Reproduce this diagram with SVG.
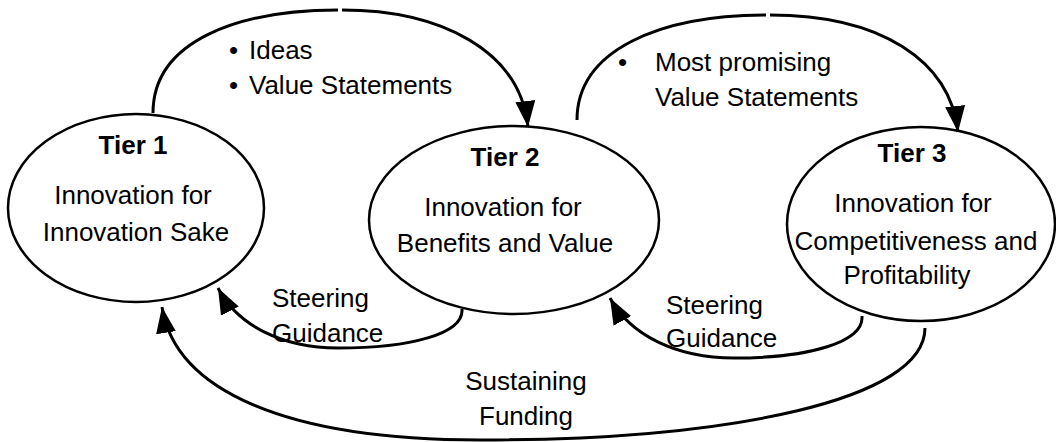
<svg xmlns="http://www.w3.org/2000/svg" width="1056" height="442" viewBox="0 0 1056 442">
<style>
.node{fill:#fff;stroke:#000;stroke-width:2.5}
.conn{fill:none;stroke:#000;stroke-width:3}
text{font-family:"Liberation Sans",Arial,sans-serif;font-size:26px;fill:#000}
.t{font-weight:bold;text-anchor:middle}
.c{text-anchor:middle}
</style>
<defs>
<marker id="ah" markerUnits="userSpaceOnUse" viewBox="0 0 26 20" markerWidth="26" markerHeight="20" refX="26" refY="10" orient="auto">
<path d="M0,0 L26,10 L0,20 z" fill="#000"/>
</marker>
</defs>
<rect width="1056" height="442" fill="#fff"/>
<g id="tier1">
<ellipse class="node" cx="136" cy="208" rx="128" ry="94"/>
<text class="t" x="133" y="154">Tier 1</text>
<text class="c" x="133" y="204">Innovation for</text>
<text class="c" x="136" y="241">Innovation Sake</text>
</g>
<g id="tier2">
<ellipse class="node" cx="514" cy="220" rx="145" ry="94"/>
<text class="t" x="505" y="166">Tier 2</text>
<text class="c" x="503" y="216">Innovation for</text>
<text class="c" x="505" y="252">Benefits and Value</text>
</g>
<g id="tier3">
<ellipse class="node" cx="921" cy="224" rx="134" ry="97"/>
<text class="t" x="912" y="162">Tier 3</text>
<text class="c" x="913" y="212">Innovation for</text>
<text class="c" x="916" y="250">Competitiveness and</text>
<text class="c" x="907" y="284">Profitability</text>
</g>
<g id="connectors">
<path class="conn" d="M153,113 C153,40 240,10 338,10"/>
<path class="conn" d="M342,10 C440,10 520,50 528,127" marker-end="url(#ah)"/>
<path class="conn" d="M577,120 C577,50 660,15 766,15"/>
<path class="conn" d="M770,15 C880,15 950,60 958,132" marker-end="url(#ah)"/>
<path class="conn" d="M462,309 C464,334 410,348 338,348 C282,348 237,325 218,288" marker-end="url(#ah)"/>
<path class="conn" d="M862,316 C864,342 810,358 734,358 C676,358 630,335 610,298" marker-end="url(#ah)"/>
<path class="conn" d="M925,328 C925,400 730,440 480,440 C285,440 175,390 162,307" marker-end="url(#ah)"/>
</g>
<g id="labels">
<text x="229" y="59">•</text><text x="249" y="59">Ideas</text>
<text x="229" y="94">•</text><text x="249" y="94">Value Statements</text>
<text x="618" y="71">•</text><text x="655" y="71">Most promising</text>
<text x="655" y="106">Value Statements</text>
<text x="272" y="307">Steering</text>
<text x="272" y="342">Guidance</text>
<text x="666" y="314">Steering</text>
<text x="666" y="347">Guidance</text>
<text class="c" x="526" y="390">Sustaining</text>
<text class="c" x="526" y="425">Funding</text>
</g>
</svg>
